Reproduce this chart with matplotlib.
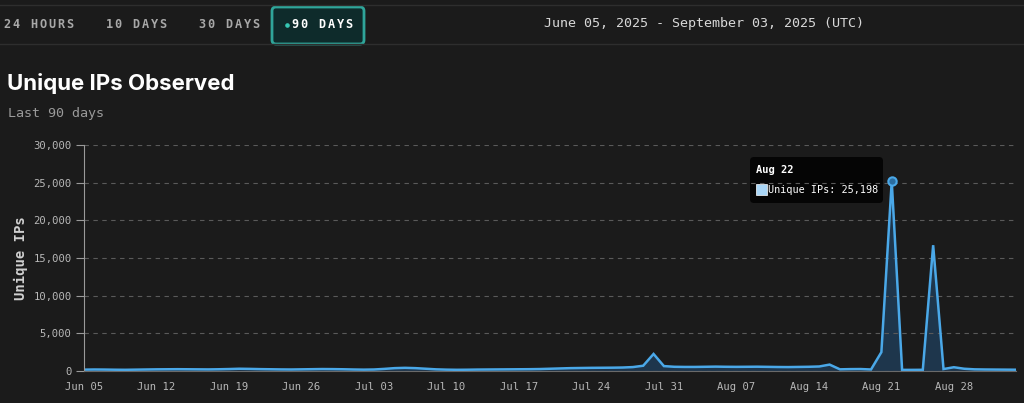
import numpy as np
import matplotlib.pyplot as plt
from matplotlib.patches import FancyBboxPatch, Rectangle
import datetime as dt

# Data: daily unique IPs, Jun 05 2025 .. Sep 03 2025
start = dt.date(2025, 6, 5)
unique_ips = [
    180, 200, 190, 170, 160, 180, 200, 220, 230, 240,   # Jun 05-14
    230, 220, 210, 230, 260, 300, 280, 250, 230, 210,   # Jun 15-24
    200, 220, 240, 260, 250, 230, 200, 180, 200, 280,   # Jun 25-Jul 04
    380, 420, 380, 300, 220, 180, 160, 170, 190, 200,   # Jul 05-14
    210, 220, 230, 240, 260, 300, 340, 380, 400, 420,   # Jul 15-24
    430, 440, 460, 520, 700, 2260, 650, 560, 540, 540,  # Jul 25-Aug 03
    560, 580, 560, 550, 560, 570, 550, 530, 520, 540,   # Aug 04-13
    560, 600, 850, 220, 250, 260, 200, 2500, 25198, 150,  # Aug 14-23
    150, 160, 16700, 260, 500, 300, 220, 200, 190, 180,  # Aug 24-Sep 02
    170,                                                # Sep 03
]
tabs = ["24 HOURS", "10 DAYS", "30 DAYS", "90 DAYS"]
tab_left = [4, 106, 199, 292]
tick_days = list(range(0, 91, 7))
tick_labels = [(start + dt.timedelta(days=d)).strftime("%b %d") for d in tick_days]
y_ticks = [0, 5000, 10000, 15000, 20000, 25000, 30000]
peak_day = 78

bg = "#1b1b1b"
line_c = "#4aa8e8"
fill_c = "#1f3a52"
grid_c = "#5a5a5a"
text_c = "#b8b8b8"
mono = "DejaVu Sans Mono"

W, H = 1024, 403
fig = plt.figure(figsize=(W / 100, H / 100), dpi=100, facecolor=bg)

# top bar
top = fig.add_axes([0, 0, 1, 1], facecolor="none")
top.set_xlim(0, W)
top.set_ylim(H, 0)
top.axis("off")
top.plot([0, W], [5, 5], color="#2e2e2e", lw=1)
top.plot([0, W], [44, 44], color="#2e2e2e", lw=1)
top.add_patch(FancyBboxPatch((272, 7), 92, 37, boxstyle="round,pad=0,rounding_size=4",
                             facecolor="#0e2b2b", edgecolor="#2fa59a", lw=2))
# letter-spaced tab labels
for name, x0 in zip(tabs, tab_left):
    sel = name == "90 DAYS"
    for i, ch in enumerate(name):
        top.text(x0 + i * 9 + 3, 25, ch, ha="center", va="center", family=mono,
                 fontsize=8.6, fontweight="bold", color="#ffffff" if sel else "#a8a8a8")
top.plot(287, 25, "o", ms=2.3, color="#36c8b4")
top.text(704, 24, "June 05, 2025 - September 03, 2025 (UTC)", ha="center", va="center",
         family=mono, fontsize=9.6, color="#d8d8d8")
top.text(7, 84, "Unique IPs Observed", ha="left", va="center", family="Inter",
         fontsize=16, fontweight="bold", color="#ffffff")
top.text(8, 114, "Last 90 days", ha="left", va="center", family=mono,
         fontsize=9.6, color="#9a9a9a")

# chart
ax = fig.add_axes([84 / W, 1 - 371 / H, (1016 - 84) / W, (371 - 145) / H], facecolor="none")
days = np.arange(len(unique_ips))
vals = np.array(unique_ips)
ax.fill_between(days, vals, color=fill_c, alpha=0.9, lw=0)
ax.plot(days, vals, color=line_c, lw=1.8, solid_joinstyle="miter")
ax.plot(peak_day, vals[peak_day], "o", ms=6, mfc="#2b6da0", mec=line_c, mew=1.5)
ax.set_xlim(0, 90)
ax.set_ylim(0, 30000)
ax.set_yticks(y_ticks)
ax.set_yticklabels([f"{v:,}" for v in y_ticks], family=mono, fontsize=7.6, color=text_c)
ax.set_xticks(tick_days)
ax.set_xticklabels(tick_labels, family=mono, fontsize=7.6, color=text_c)
ax.tick_params(axis="y", length=6, color="#9a9a9a", pad=3)
ax.tick_params(axis="x", length=0, pad=8)
ax.grid(axis="y", color=grid_c, ls=(0, (4, 4)), lw=0.8)
for s in ["top", "right"]:
    ax.spines[s].set_visible(False)
ax.spines["left"].set_color("#9a9a9a")
ax.spines["bottom"].set_color("#6a6a6a")
ax.set_ylabel("Unique IPs", family=mono, fontsize=10, fontweight="bold", color="#d0d0d0")
ax.yaxis.set_label_coords((28 - 84) / 932, 0.5)

# tooltip
top.add_patch(FancyBboxPatch((750, 157), 133, 46, boxstyle="round,pad=0,rounding_size=4",
                             facecolor="#050505", edgecolor="none"))
top.text(756, 170, "Aug 22", ha="left", va="center", family=mono, fontsize=7.5,
         fontweight="bold", color="#ffffff")
top.add_patch(Rectangle((756, 184), 11, 11, facecolor="#a9d6f7", edgecolor="#ffffff", lw=0.5))
top.text(768, 190, "Unique IPs: 25,198", ha="left", va="center", family=mono,
         fontsize=7.3, color="#ffffff")

fig.savefig("out.png", dpi=100, facecolor=bg)
